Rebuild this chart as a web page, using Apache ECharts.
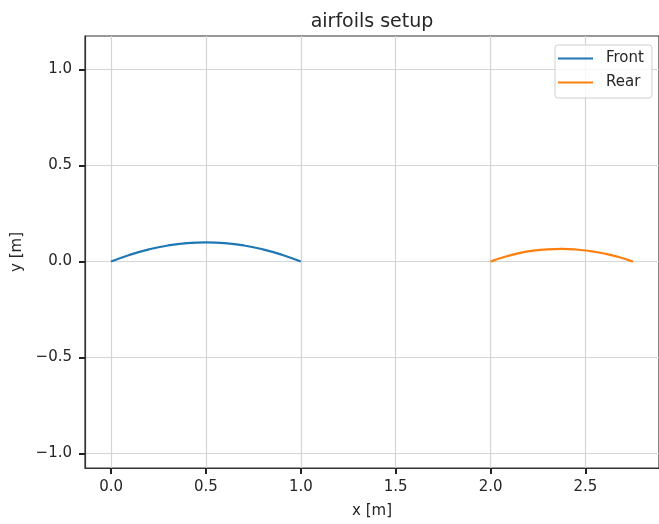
<!DOCTYPE html>
<html>
<head>
<meta charset="utf-8">
<script src="https://cdn.jsdelivr.net/npm/echarts@6/dist/echarts.min.js"></script>
<style>html,body{margin:0;padding:0;background:#fff;}#c{width:659px;height:524px;}</style>
</head>
<body>
<div id="c"></div>
<script>
var frontX = [0.0, 0.1, 0.2, 0.3, 0.4, 0.5, 0.6, 0.7, 0.8, 0.9, 1.0];
var frontY = [0.0, 0.036, 0.064, 0.084, 0.096, 0.1, 0.096, 0.084, 0.064, 0.036, 0.0];
var rearX = [2.0, 2.075, 2.15, 2.225, 2.3, 2.375, 2.45, 2.525, 2.6, 2.675, 2.75];
var rearY = [0.0, 0.025, 0.044, 0.057, 0.064, 0.066, 0.063, 0.055, 0.042, 0.024, 0.0];
var xTicks = [0.0, 0.5, 1.0, 1.5, 2.0, 2.5];
var yTicks = [-1.0, -0.5, 0.0, 0.5, 1.0];
var seriesNames = ['Front', 'Rear'];

function pairs(xs, ys) { return xs.map(function (x, i) { return [x, ys[i]]; }); }
function fmt(v) { return (v < 0 ? '\u2212' : '') + Math.abs(v).toFixed(1); }

var FONT = 'DejaVu Sans';
var TXT = '#262626';
var chart = echarts.init(document.getElementById('c'), null, { renderer: 'canvas' });
chart.setOption({
  animation: false,
  backgroundColor: '#fff',
  title: {
    text: 'airfoils setup', left: 372, top: 13, textAlign: 'center', padding: 0,
    textStyle: { fontFamily: FONT, fontSize: 19, fontWeight: 'normal', color: TXT }
  },
  legend: {
    orient: 'vertical', left: 555, top: 45, align: 'left',
    padding: [5, 8, 7, 3], itemGap: 7, itemWidth: 35, itemHeight: 2.2,
    icon: 'path://M0 0H35V2H0Z',
    backgroundColor: 'rgba(255,255,255,0.8)', borderColor: '#d0d0d0', borderWidth: 1, borderRadius: 3,
    textStyle: { fontFamily: FONT, fontSize: 15, lineHeight: 17, color: TXT, padding: [0, 0, 0, 8] },
    data: seriesNames
  },
  grid: {
    left: 85, top: 36, right: -1, bottom: 56, show: true,
    borderColor: '#333', borderWidth: 1.2, backgroundColor: 'transparent'
  },
  xAxis: {
    type: 'value', min: -0.1375, max: 2.8875,
    name: 'x [m]', nameLocation: 'middle', nameGap: 36,
    nameTextStyle: { fontFamily: FONT, fontSize: 15, color: TXT },
    axisLine: { show: true, onZero: false, lineStyle: { color: '#333', width: 1.2 } },
    axisTick: { show: true, length: 6, customValues: xTicks, lineStyle: { color: '#222', width: 2 } },
    axisLabel: { customValues: xTicks, formatter: fmt, margin: 12, fontFamily: FONT, fontSize: 15, color: TXT },
    splitLine: { show: true, lineStyle: { color: '#d4d4d4', width: 1.2 } }
  },
  yAxis: {
    type: 'value', min: -1.075, max: 1.175,
    name: 'y [m]', nameLocation: 'middle', nameGap: 55, nameRotate: 90,
    nameTextStyle: { fontFamily: FONT, fontSize: 15, color: TXT },
    axisLine: { show: true, onZero: false, lineStyle: { color: '#333', width: 1.2 } },
    axisTick: { show: true, length: 6, customValues: yTicks, lineStyle: { color: '#222', width: 2 } },
    axisLabel: { customValues: yTicks, formatter: fmt, margin: 13, fontFamily: FONT, fontSize: 15, color: TXT },
    splitLine: { show: true, lineStyle: { color: '#d4d4d4', width: 1.2 } }
  },
  series: [
    { name: seriesNames[0], type: 'line', data: pairs(frontX, frontY), smooth: true, symbol: 'none',
      lineStyle: { color: '#1f77b4', width: 2.2 }, itemStyle: { color: '#1f77b4' } },
    { name: seriesNames[1], type: 'line', data: pairs(rearX, rearY), smooth: true, symbol: 'none',
      lineStyle: { color: '#ff7f0e', width: 2.2 }, itemStyle: { color: '#ff7f0e' } }
  ]
});
</script>
</body>
</html>
